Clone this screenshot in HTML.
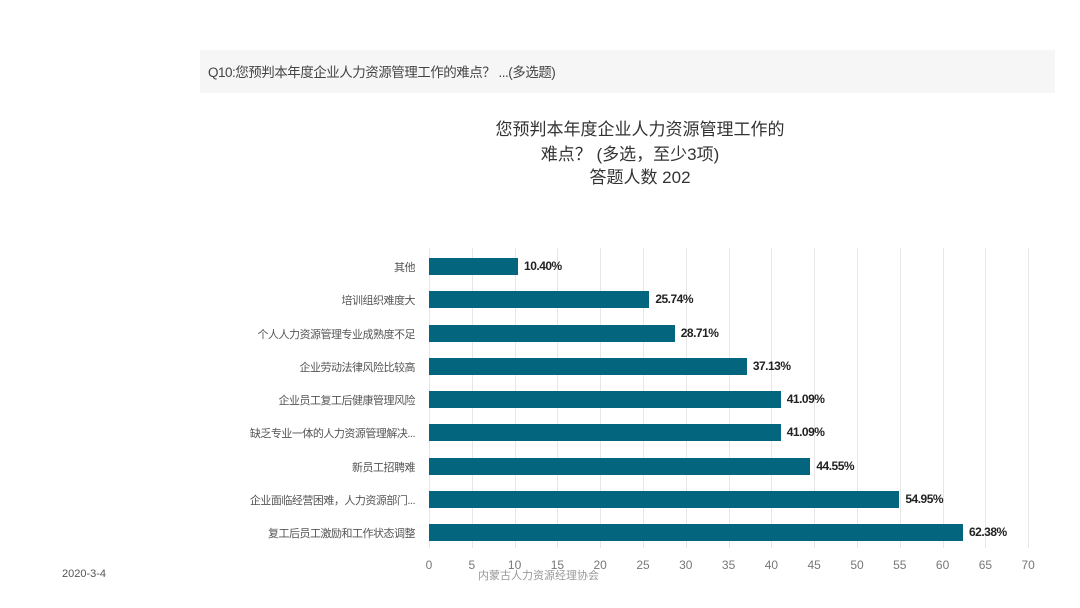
<!DOCTYPE html>
<html><head><meta charset="utf-8"><style>
body{margin:0;width:1080px;height:608px;background:#fff;position:relative;overflow:hidden;font-family:"Liberation Sans","Noto Sans CJK SC",sans-serif;}
.hd{position:absolute;left:200px;top:50px;width:855px;height:43px;background:#f6f6f6;}
.hd span{position:absolute;left:8px;top:11px;font-size:13.5px;letter-spacing:-0.5px;color:#444;}
.t{position:absolute;left:440px;width:400px;text-align:center;font-size:17px;color:#333;line-height:24px;}
.cat{position:absolute;right:665px;font-size:11px;letter-spacing:-0.5px;color:#555;text-align:right;white-space:nowrap;}
.bar{position:absolute;left:429px;height:17px;background:#04657f;}
.v{position:absolute;font-size:12px;font-weight:bold;color:#222;letter-spacing:-0.5px;}
.g{position:absolute;top:248px;height:300px;width:1px;background:#e6e6e6;}
.tk{position:absolute;top:558px;font-size:12px;color:#777;width:30px;margin-left:-15px;text-align:center;}
</style></head><body>
<div class="hd"><span>Q10:您预判本年度企业人力资源管理工作的难点？ ...(多选题)</span></div>
<div class="t" style="top:118px">您预判本年度企业人力资源管理工作的</div>
<div class="t" style="top:143px;left:430px">难点？ (多选，至少3项)</div>
<div class="t" style="top:166px">答题人数 202</div>
<div id="c"></div>
<div style="position:absolute;left:62px;top:568px;font-size:11px;color:#555">2020-3-4</div>
<div style="position:absolute;left:478px;top:567px;font-size:11px;color:#999">内蒙古人力资源经理协会</div>
<script>
var u=8.56,h='';
for(var i=0;i<=70;i+=5){var x=429+i*u;h+='<div class="g" style="left:'+Math.round(x)+'px"></div><div class="tk" style="left:'+x+'px">'+i+'</div>';}
var d=[["其他",10.40],["培训组织难度大",25.74],["个人人力资源管理专业成熟度不足",28.71],["企业劳动法律风险比较高",37.13],["企业员工复工后健康管理风险",41.09],["缺乏专业一体的人力资源管理解决...",41.09],["新员工招聘难",44.55],["企业面临经营困难，人力资源部门...",54.95],["复工后员工激励和工作状态调整",62.38]];
d.forEach(function(r,k){var y=258+k*33.25,w=r[1]*u;
h+='<div class="cat" style="top:'+(y+1)+'px">'+r[0]+'</div><div class="bar" style="top:'+y+'px;width:'+w+'px"></div><div class="v" style="top:'+(y+1)+'px;left:'+(429+w+6)+'px">'+r[1].toFixed(2)+'%</div>';});
document.getElementById('c').innerHTML=h;
</script>
</body></html>
